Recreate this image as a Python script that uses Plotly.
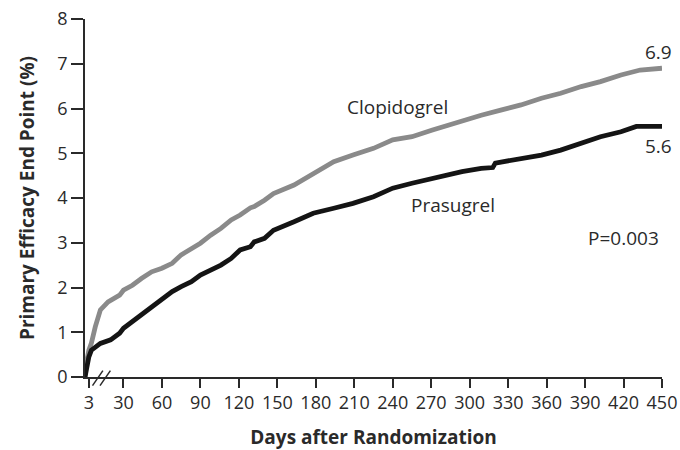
import plotly.graph_objects as go

# Kaplan-Meier style cumulative incidence (%) of the primary efficacy end point
clopidogrel_days = [0, 1, 3, 5, 8, 12, 18, 27, 30, 37, 44, 52, 60, 68, 75, 83, 90,
                    98, 106, 114, 121, 129, 132, 140, 147, 163, 178, 194, 209, 225,
                    240, 255, 271, 279, 294, 309, 325, 340, 356, 371, 387, 402, 418,
                    433, 450]
clopidogrel_pct = [0.0, 0.3, 0.6, 0.76, 1.12, 1.5, 1.68, 1.83, 1.94, 2.05, 2.2, 2.35,
                   2.43, 2.54, 2.73, 2.87, 2.99, 3.17, 3.32, 3.51, 3.62, 3.78, 3.81,
                   3.95, 4.1, 4.29, 4.55, 4.81, 4.96, 5.11, 5.3, 5.37, 5.52, 5.59,
                   5.74, 5.85, 5.97, 6.08, 6.23, 6.34, 6.49, 6.6, 6.75, 6.86, 6.9]

prasugrel_days = [0, 1, 3, 5, 7, 12, 20, 27, 30, 37, 44, 52, 60, 68, 75, 83, 90, 98,
                  106, 114, 121, 129, 132, 140, 147, 163, 178, 194, 209, 225, 240,
                  255, 271, 279, 294, 309, 318, 320, 340, 356, 371, 387, 402, 418,
                  430, 450]
prasugrel_pct = [0.0, 0.2, 0.45, 0.6, 0.64, 0.75, 0.83, 0.98, 1.09, 1.24, 1.39, 1.57,
                 1.76, 1.91, 2.02, 2.13, 2.28, 2.39, 2.5, 2.65, 2.84, 2.91, 3.02, 3.1,
                 3.28, 3.47, 3.66, 3.77, 3.88, 4.03, 4.22, 4.33, 4.44, 4.51, 4.59,
                 4.66, 4.68, 4.78, 4.89, 4.96, 5.07, 5.22, 5.37, 5.48, 5.6, 5.6]

x_tickvals = [3, 30, 60, 90, 120, 150, 180, 210, 240, 270, 300, 330, 360, 390, 420, 450]
x_ticktext = [str(v) for v in x_tickvals]
y_tickvals = [0, 1, 2, 3, 4, 5, 6, 7, 8]

p_value_text = "P=0.003"

FONT = "Open Sans"
INK = "#2a2a2a"

fig = go.Figure()

fig.add_trace(go.Scatter(
    x=clopidogrel_days, y=clopidogrel_pct, mode="lines", name="Clopidogrel",
    line=dict(color="#8a8a8a", width=4.8), cliponaxis=False, hoverinfo="skip",
))
fig.add_trace(go.Scatter(
    x=prasugrel_days, y=prasugrel_pct, mode="lines", name="Prasugrel",
    line=dict(color="#141414", width=4.8), cliponaxis=False, hoverinfo="skip",
))

# End-of-follow-up values and curve labels
label_font = dict(family=FONT, size=19, color=INK)
fig.add_annotation(x=clopidogrel_days[-1], y=clopidogrel_pct[-1], text=f"{clopidogrel_pct[-1]:.1f}",
                   showarrow=False, xanchor="center", yanchor="middle", xshift=-4, yshift=16,
                   font=label_font)
fig.add_annotation(x=prasugrel_days[-1], y=prasugrel_pct[-1], text=f"{prasugrel_pct[-1]:.1f}",
                   showarrow=False, xanchor="center", yanchor="middle", xshift=-4, yshift=-20,
                   font=label_font)
fig.add_annotation(x=244, y=6.03, text="Clopidogrel", showarrow=False,
                   xanchor="center", yanchor="middle", font=label_font)
fig.add_annotation(x=287, y=3.84, text="Prasugrel", showarrow=False,
                   xanchor="center", yanchor="middle", font=label_font)
fig.add_annotation(x=420, y=3.11, text=p_value_text, showarrow=False,
                   xanchor="center", yanchor="middle", font=label_font)

# Axis-break marks ("//") between the 3-day and 30-day ticks
for x0 in (0.013, 0.026):
    fig.add_shape(type="line", xref="paper", yref="paper",
                  x0=x0, y0=-0.024, x1=x0 + 0.018, y1=0.018,
                  line=dict(color=INK, width=1.5))

fig.update_layout(
    width=680, height=450,
    margin=dict(l=85, r=18, t=19, b=73),
    paper_bgcolor="white", plot_bgcolor="white",
    showlegend=False,
    font=dict(family=FONT, size=18, color=INK),
    xaxis=dict(
        range=[0, 450], tickvals=x_tickvals, ticktext=x_ticktext,
        automargin=False,
        showline=True, linecolor=INK, linewidth=1.5,
        ticks="outside", ticklen=9, tickwidth=1.5, tickcolor=INK,
        showgrid=False, zeroline=False,
        tickfont=dict(family=FONT, size=18, color=INK),
        title=dict(text="<b>Days after Randomization</b>", standoff=18,
                   font=dict(family=FONT, size=19, color=INK)),
    ),
    yaxis=dict(
        range=[0, 8], tickvals=y_tickvals,
        automargin=False,
        showline=True, linecolor=INK, linewidth=1.5,
        ticks="outside", ticklen=12, tickwidth=1.5, tickcolor=INK,
        showgrid=False, zeroline=False,
        tickfont=dict(family=FONT, size=18, color=INK),
        title=dict(text="<b>Primary Efficacy End Point (%)</b>", standoff=18,
                   font=dict(family=FONT, size=19, color=INK)),
    ),
)

fig.write_html("out.html")
